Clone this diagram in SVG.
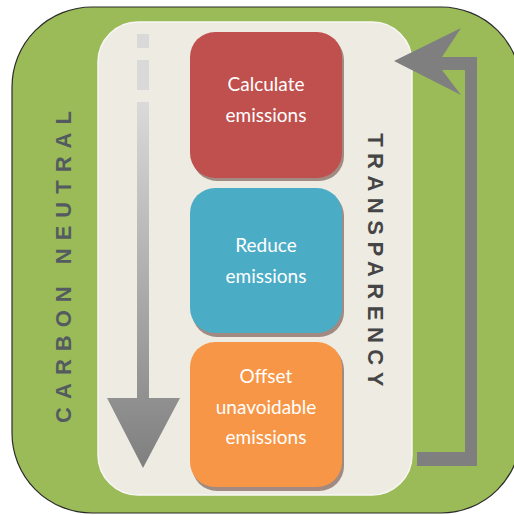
<svg xmlns="http://www.w3.org/2000/svg" width="514" height="515" viewBox="0 0 514 515">
  <defs>
    <linearGradient id="shaftGrad" x1="0" y1="0" x2="0" y2="1">
      <stop offset="0" stop-color="#dadada"/>
      <stop offset="1" stop-color="#7f7f7f"/>
    </linearGradient>
    <style>
      .box-label { font-family: Lato, "Open Sans", "Liberation Sans", sans-serif; font-size: 19px; fill: #ffffff; text-anchor: middle; }
      .shadow { fill: #a08a82; }
      .side-label { font-family: "Liberation Sans", Arial, sans-serif; font-size: 22px; text-anchor: middle; }
    </style>
  </defs>

  <rect width="514" height="515" fill="#ffffff"/>

  <!-- outer frame -->
  <g id="frame">
    <rect x="12" y="7" width="509" height="506" rx="80" ry="80" fill="#9bbb59" stroke="#2b2b2b" stroke-width="1.2"/>
    <text class="side-label" fill="#545b60" font-weight="bold" letter-spacing="8" transform="translate(71 263) rotate(-90)">CARBON NEUTRAL</text>
  </g>

  <!-- inner panel -->
  <g id="panel">
    <rect x="98" y="22" width="314" height="473" rx="40" ry="40" fill="#edebe2" stroke="#f8f7f2" stroke-width="1.5"/>
    <text class="side-label" fill="#454545" font-weight="bold" font-size="21" letter-spacing="6.5" transform="translate(368 263) rotate(90)">TRANSPARENCY</text>
  </g>

  <g id="calculate">
    <rect class="shadow" x="192" y="35" width="152" height="146" rx="25"/>
    <rect x="190" y="32" width="152" height="146" rx="25" fill="#c0504d"/>
    <text class="box-label" x="266" y="91">Calculate</text>
    <text class="box-label" x="266" y="122">emissions</text>
  </g>

  <g id="reduce">
    <rect class="shadow" x="192" y="191" width="152" height="146" rx="25"/>
    <rect x="190" y="188" width="152" height="145" rx="25" fill="#4bacc6"/>
    <text class="box-label" x="266" y="252">Reduce</text>
    <text class="box-label" x="266" y="283">emissions</text>
  </g>

  <g id="offset">
    <rect class="shadow" x="192" y="345" width="152" height="146" rx="25"/>
    <rect x="190" y="342" width="152" height="145" rx="25" fill="#f79646"/>
    <text class="box-label" x="266" y="383">Offset</text>
    <text class="box-label" x="266" y="414">unavoidable</text>
    <text class="box-label" x="266" y="444">emissions</text>
  </g>

  <g id="connectors">
    <!-- downward flow arrow -->
    <rect x="137" y="34" width="12" height="14" fill="#d9d9d9"/>
    <rect x="137" y="60" width="12" height="30" fill="#d9d9d9"/>
    <path d="M137 102 H149 V398 H180 L143 468 L107 398 H137 Z" fill="url(#shaftGrad)"/>
    <!-- feedback loop arrow -->
    <path d="M394 61 L461 28 L442 57 H477 V466 H417 V452 H465 V70 H442 L461 95 Z" fill="#7f7f7f"/>
  </g>
</svg>
